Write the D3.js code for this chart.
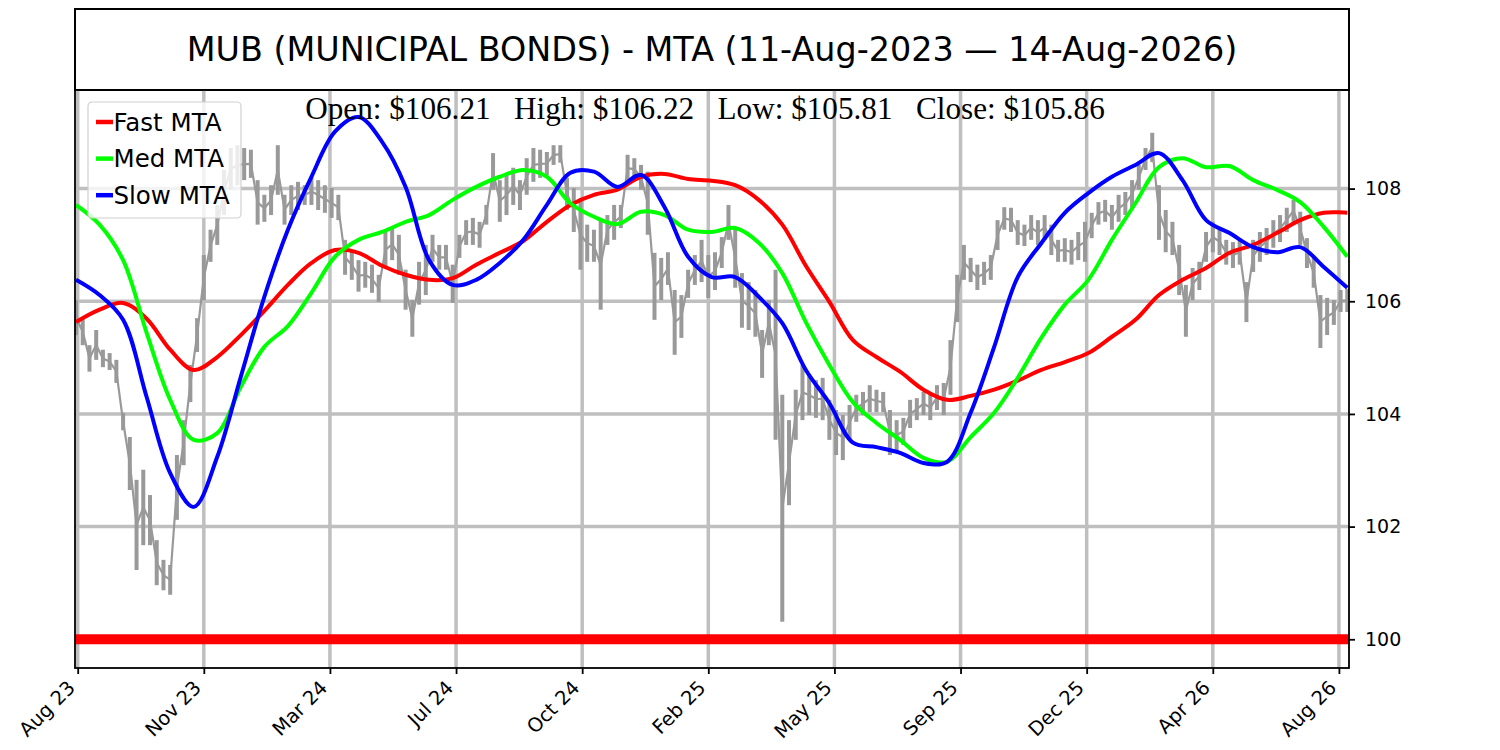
<!DOCTYPE html>
<html>
<head>
<meta charset="utf-8">
<script src="https://cdn.jsdelivr.net/npm/d3@7"></script>
<style>
  body { margin: 0; background: #fff; }
  svg text { font-family: "DejaVu Sans", sans-serif; fill: #000; }
</style>
</head>
<body>
<svg id="chart" width="1500" height="750"></svg>
<script>
// ================================
// data
// ================================
const titleText = "MUB (MUNICIPAL BONDS) - MTA (11-Aug-2023 — 14-Aug-2026)";
const ohlcText = [ "Open: $106.21", "High: $106.22", "Low: $105.81", "Close: $105.86" ];

const tickLabels = [ "Aug 23", "Nov 23", "Mar 24", "Jul 24", "Oct 24", "Feb 25",
  "May 25", "Sep 25", "Dec 25", "Apr 26", "Aug 26" ];
const tickDays = [ 1, 76, 151, 226, 301, 376, 451, 526, 601, 676, 751 ]; // trading day of each tick
const yTicks = [ 100, 102, 104, 106, 108 ];

const priceStep = 4; // trading days between the gray bars
const priceHigh = [
  106.02, 105.70, 105.22, 105.49, 105.14, 105.08, 104.96, 104.02, 103.59, 102.83,
  103.01, 102.56, 101.76, 101.41, 101.32, 103.27, 103.89, 104.87, 105.70, 106.82,
  107.27, 107.71, 108.33, 108.72, 108.77, 108.72, 108.69, 108.15, 107.89, 108.06,
  108.77, 107.89, 108.06, 108.12, 108.06, 108.19, 108.15, 108.06, 108.01, 107.89,
  107.09, 106.91, 106.73, 106.70, 106.65, 106.47, 107.23, 107.30, 107.18, 106.56,
  106.02, 106.70, 107.00, 107.18, 107.00, 107.00, 106.65, 107.18, 107.44, 107.48,
  107.41, 107.71, 108.63, 108.15, 108.24, 108.37, 108.15, 108.54, 108.72, 108.69,
  108.65, 108.77, 108.77, 108.19, 108.01, 107.80, 107.36, 107.27, 107.44, 107.53,
  107.71, 107.71, 108.60, 108.54, 108.42, 108.30, 106.86, 106.77, 106.87, 106.20,
  106.11, 106.56, 106.82, 107.09, 106.82, 106.87, 107.14, 107.71, 107.30, 106.50,
  106.34, 106.20, 105.49, 106.02, 106.56, 104.34, 103.89, 104.43, 104.87, 104.69,
  104.60, 104.64, 104.25, 104.07, 103.98, 104.16, 104.34, 104.39, 104.51, 104.43,
  104.39, 104.07, 103.89, 103.93, 104.25, 104.28, 104.39, 104.34, 104.51, 104.55,
  105.31, 106.47, 107.00, 106.77, 106.65, 106.70, 106.82, 107.44, 107.67, 107.66,
  107.44, 107.36, 107.53, 107.44, 107.53, 107.36, 107.09, 107.12, 107.09, 107.23,
  107.41, 107.57, 107.76, 107.80, 107.71, 107.89, 107.94, 108.15, 108.42, 108.72,
  108.99, 108.06, 107.62, 107.41, 107.00, 106.29, 106.59, 106.70, 107.23, 107.41,
  107.30, 107.09, 107.05, 107.09, 106.34, 107.09, 107.23, 107.30, 107.44, 107.53,
  107.66, 107.80, 107.59, 107.12, 106.77, 106.11, 106.06, 106.02, 106.20, 106.22
];
const priceLow = [
  105.40, 105.22, 104.75, 104.96, 104.83, 104.78, 104.55, 103.71, 102.65, 101.23,
  101.67, 101.67, 100.96, 100.87, 100.79, 102.12, 103.09, 104.21, 105.10, 106.02,
  106.70, 107.00, 107.53, 107.98, 108.06, 108.15, 108.19, 107.36, 107.41, 107.53,
  107.89, 107.36, 107.53, 107.62, 107.71, 107.71, 107.62, 107.57, 107.48, 107.44,
  106.47, 106.38, 106.17, 106.24, 106.15, 105.99, 106.59, 106.73, 106.47, 105.85,
  105.37, 105.94, 106.11, 106.70, 106.56, 106.56, 105.97, 106.77, 107.00, 107.00,
  106.95, 107.36, 107.98, 107.41, 107.53, 107.71, 107.62, 107.89, 108.12, 108.19,
  108.24, 108.42, 108.46, 107.62, 107.23, 106.56, 106.70, 106.70, 105.85, 107.00,
  107.09, 107.30, 108.12, 108.15, 107.98, 107.18, 105.67, 106.02, 106.29, 105.05,
  105.35, 106.06, 106.29, 106.34, 106.06, 106.20, 106.59, 107.09, 106.24, 105.53,
  105.49, 105.37, 104.64, 105.22, 103.54, 100.31, 102.38, 103.54, 103.89, 103.98,
  103.93, 103.89, 103.54, 103.27, 103.18, 103.54, 103.86, 103.98, 104.03, 104.03,
  104.03, 103.27, 103.36, 103.45, 103.75, 103.89, 103.98, 103.89, 104.07, 103.98,
  104.34, 105.63, 106.38, 106.34, 106.20, 106.29, 106.38, 106.91, 107.27, 107.23,
  107.00, 106.98, 107.09, 107.00, 107.09, 106.82, 106.70, 106.70, 106.65, 106.73,
  106.70, 107.12, 107.36, 107.41, 107.27, 107.41, 107.53, 107.66, 107.98, 108.33,
  108.47, 107.09, 106.87, 106.82, 106.11, 105.37, 106.02, 106.20, 106.70, 106.87,
  106.82, 106.65, 106.59, 106.65, 105.63, 106.52, 106.70, 106.82, 106.95, 107.05,
  107.23, 107.41, 107.00, 106.59, 106.24, 105.17, 105.40, 105.58, 105.81, 105.81
];

const mtaStep = 14; // trading days between MTA samples
const fastMTA = [
  105.63, 105.85, 105.97, 105.69, 105.14, 104.78, 105.01, 105.40, 105.83, 106.29,
  106.68, 106.91, 106.86, 106.63, 106.47, 106.38, 106.41, 106.65, 106.86, 107.07,
  107.41, 107.71, 107.89, 107.98, 108.21, 108.26, 108.17, 108.14, 108.06, 107.80,
  107.36, 106.63, 105.99, 105.31, 105.01, 104.75, 104.43, 104.25, 104.32, 104.43,
  104.59, 104.78, 104.92, 105.08, 105.37, 105.67, 106.11, 106.38, 106.59, 106.86,
  107.00, 107.21, 107.44, 107.57, 107.57
];
const medMTA = [
  107.71, 107.36, 106.73, 105.44, 104.25, 103.54, 103.66, 104.48, 105.19, 105.56,
  106.15, 106.79, 107.09, 107.23, 107.41, 107.53, 107.80, 108.03, 108.21, 108.33,
  108.21, 107.74, 107.50, 107.37, 107.59, 107.53, 107.27, 107.23, 107.30, 107.04,
  106.50, 105.63, 104.87, 104.21, 103.84, 103.54, 103.22, 103.15, 103.59, 104.02,
  104.64, 105.35, 105.94, 106.38, 107.09, 107.74, 108.38, 108.54, 108.38, 108.40,
  108.15, 107.98, 107.76, 107.32, 106.79
];
const slowMTA = [
  106.38, 106.11, 105.67, 104.30, 102.95, 102.35, 103.24, 104.66, 106.08, 107.27,
  108.21, 109.01, 109.27, 108.83, 108.03, 106.73, 106.29, 106.38, 106.68, 107.09,
  107.71, 108.28, 108.30, 108.03, 108.24, 107.67, 106.79, 106.43, 106.43, 106.08,
  105.61, 104.78, 104.19, 103.49, 103.41, 103.31, 103.13, 103.15, 104.02, 105.19,
  106.43, 107.03, 107.57, 107.92, 108.21, 108.42, 108.63, 108.15, 107.44, 107.21,
  106.96, 106.87, 106.96, 106.61, 106.24
];
const baseLevel = 100; // thick red reference line

const legendNames = [ "Fast MTA", "Med MTA", "Slow MTA" ];
const legendColors = [ "#ff0000", "#00ff00", "#0000ff" ];

// ================================
// layout
// ================================
const plot = { left: 75, right: 1349, top: 90, bottom: 668 };
const svg = d3.select( "#chart" );

svg.append( "rect" ) // page background
  .attr( "width", 1500 ).attr( "height", 750 ).attr( "fill", "#fff" );

const xScale = d3.scaleLinear()
  .domain( [ -0.6, 757 ] )
  .range( [ plot.left, plot.right ] );

const yScale = d3.scaleLinear()
  .domain( [ 99.49, 109.75 ] )
  .range( [ plot.bottom, plot.top ] );

svg.append( "clipPath" ).attr( "id", "plotClip" )
  .append( "rect" )
  .attr( "x", plot.left ).attr( "y", plot.top )
  .attr( "width", plot.right - plot.left ).attr( "height", plot.bottom - plot.top );

// ---- title box ----
svg.append( "rect" )
  .attr( "x", plot.left ).attr( "y", 9 )
  .attr( "width", plot.right - plot.left ).attr( "height", plot.top - 9 )
  .attr( "fill", "none" ).attr( "stroke", "#000" ).attr( "stroke-width", 2 );

svg.append( "text" )
  .attr( "x", ( plot.left + plot.right ) / 2 ).attr( "y", 61 )
  .attr( "text-anchor", "middle" )
  .style( "font-size", "33.4px" )
  .text( titleText );

// ---- grid ----
const grid = svg.append( "g" ).attr( "clip-path", "url(#plotClip)" );

grid.selectAll( ".vgrid" )
  .data( tickDays )
  .enter()
  .append( "line" )
  .attr( "class", "vgrid" )
  .attr( "x1", d => xScale( d ) ).attr( "x2", d => xScale( d ) )
  .attr( "y1", plot.top ).attr( "y2", plot.bottom )
  .attr( "stroke", "#bfbfbf" ).attr( "stroke-width", 3.5 );

grid.selectAll( ".hgrid" )
  .data( yTicks )
  .enter()
  .append( "line" )
  .attr( "class", "hgrid" )
  .attr( "x1", plot.left ).attr( "x2", plot.right )
  .attr( "y1", d => yScale( d ) ).attr( "y2", d => yScale( d ) )
  .attr( "stroke", "#bfbfbf" ).attr( "stroke-width", 3.5 );

// ---- price bars (high-low) ----
const chartGroup = svg.append( "g" ).attr( "clip-path", "url(#plotClip)" );

// thin trace between bar mid points so the bars read as one jagged series
var trace = d3.line()
  .x( ( d, i ) => xScale( i * priceStep ) )
  .y( ( d, i ) => yScale( ( d + priceLow[ i ] ) / 2 ) );

chartGroup.append( "path" )
  .datum( priceHigh )
  .attr( "d", trace )
  .attr( "fill", "none" )
  .attr( "stroke", "#999999" )
  .attr( "stroke-width", 2.2 );

chartGroup.selectAll( ".bar" )
  .data( priceHigh )
  .enter()
  .append( "line" )
  .attr( "class", "bar" )
  .attr( "x1", ( d, i ) => xScale( i * priceStep ) )
  .attr( "x2", ( d, i ) => xScale( i * priceStep ) )
  .attr( "y1", d => yScale( d ) )
  .attr( "y2", ( d, i ) => yScale( priceLow[ i ] ) )
  .attr( "stroke", "#999999" )
  .attr( "stroke-width", 4 );

// ---- 100 reference line ----
chartGroup.append( "line" )
  .attr( "x1", plot.left ).attr( "x2", plot.right )
  .attr( "y1", yScale( baseLevel ) ).attr( "y2", yScale( baseLevel ) )
  .attr( "stroke", "#ff0000" ).attr( "stroke-width", 10 );

// ---- MTA lines ----
var line = d3.line()
  .x( ( d, i ) => xScale( i * mtaStep ) )
  .y( d => yScale( d ) )
  .curve( d3.curveCatmullRom );

[ fastMTA, medMTA, slowMTA ].forEach( ( series, k ) => {
  chartGroup.append( "path" )
    .datum( series )
    .attr( "d", line )
    .attr( "fill", "none" )
    .attr( "stroke", legendColors[ k ] )
    .attr( "stroke-width", 4 )
    .attr( "stroke-linejoin", "round" );
} );

// ---- axes ----
const rightAxis = d3.axisRight( yScale )
  .tickValues( yTicks )
  .tickSize( 6 )
  .tickPadding( 10 )
  .tickFormat( d3.format( "d" ) );

const rAxis = svg.append( "g" )
  .attr( "transform", `translate(${plot.right},0)` )
  .call( rightAxis );
rAxis.select( ".domain" ).remove();
rAxis.selectAll( "line" ).attr( "stroke", "#000" ).attr( "stroke-width", 1.8 );
rAxis.selectAll( "text" ).style( "font-size", "19px" ).attr( "font-family", null );

const bottomAxis = d3.axisBottom( xScale )
  .tickValues( tickDays )
  .tickSize( 6 )
  .tickFormat( ( d, i ) => tickLabels[ i ] );

const bAxis = svg.append( "g" )
  .attr( "transform", `translate(0,${plot.bottom})` )
  .call( bottomAxis );
bAxis.select( ".domain" ).remove();
bAxis.selectAll( "line" ).attr( "stroke", "#000" ).attr( "stroke-width", 1.8 );
bAxis.selectAll( "text" )
  .style( "font-size", "19.5px" )
  .attr( "font-family", null )
  .attr( "text-anchor", "end" )
  .attr( "x", 0 ).attr( "y", 0 ).attr( "dy", 0 )
  .attr( "transform", "translate(-2,21) rotate(-45)" );

// ---- plot frame ----
svg.append( "rect" )
  .attr( "x", plot.left ).attr( "y", plot.top )
  .attr( "width", plot.right - plot.left ).attr( "height", plot.bottom - plot.top )
  .attr( "fill", "none" ).attr( "stroke", "#000" ).attr( "stroke-width", 1.8 );

// ---- OHLC line under the title ----
svg.append( "text" )
  .attr( "x", 705 ).attr( "y", 119 )
  .attr( "text-anchor", "middle" )
  .style( "font-family", "'Liberation Serif', 'Times New Roman', serif" )
  .style( "font-size", "31.2px" )
  .style( "white-space", "pre" )
  .text( ohlcText.join( "   " ) );

// ---- legend ----
const legend = svg.append( "g" ).attr( "transform", "translate(88,102)" );

legend.append( "rect" )
  .attr( "width", 153 ).attr( "height", 116 )
  .attr( "rx", 4 )
  .attr( "fill", "#fff" ).attr( "fill-opacity", 0.8 )
  .attr( "stroke", "#d0d0d0" ).attr( "stroke-width", 1.2 );

legendNames.forEach( ( name, i ) => {
  let ly = 20 + i * 36.6;
  legend.append( "line" )
    .attr( "x1", 8 ).attr( "x2", 25 )
    .attr( "y1", ly ).attr( "y2", ly )
    .attr( "stroke", legendColors[ i ] ).attr( "stroke-width", 4.5 );
  legend.append( "text" )
    .attr( "x", 25.5 ).attr( "y", ly + 8.5 )
    .style( "font-size", "24.5px" )
    .text( name );
} );
</script>
</body>
</html>
